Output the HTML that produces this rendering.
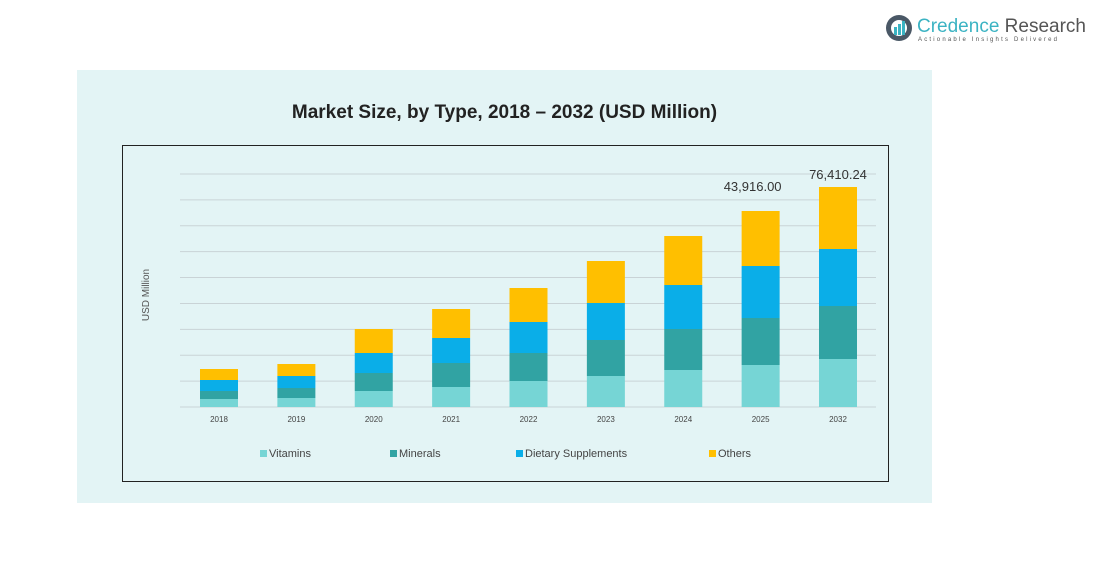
<!DOCTYPE html>
<html><head><meta charset="utf-8"><style>
body{margin:0;width:1103px;height:572px;background:#fff;font-family:"Liberation Sans",sans-serif;overflow:hidden;position:relative}
#panel{position:absolute;left:77px;top:70px;width:855px;height:433px;background:#e3f4f5}
#title{position:absolute;left:77px;top:102px;width:855px;text-align:center;font-weight:bold;font-size:19px;color:#222}
#box{position:absolute;left:122px;top:145px;width:765px;height:335px;border:1px solid #222}
#logo{position:absolute;left:885px;top:12px}
</style></head><body>
<div id="panel"></div>
<div id="title">Market Size, by Type, 2018 – 2032 (USD Million)</div>
<div id="box"></div>
<div id="logo">
<svg width="200" height="34"><circle cx="14" cy="16" r="13" fill="#4a5866"/><circle cx="14" cy="16" r="8" fill="#fff"/><rect x="9" y="15" width="3" height="8" fill="#3bb3c3"/><rect x="13" y="12" width="3" height="11" fill="#3bb3c3"/><rect x="17" y="9" width="3" height="14" fill="#3bb3c3"/>
<text x="32" y="20" font-size="19" fill="#3bb3c3" font-family="Liberation Sans">Credence <tspan fill="#555">Research</tspan></text>
<text x="33" y="29" font-size="6" fill="#555" letter-spacing="2.2" font-family="Liberation Sans">Actionable Insights Delivered</text></svg></div>
<svg id="chart" width="1103" height="572" style="position:absolute;left:0;top:0"></svg>
<script>
const categories=["2018","2019","2020","2021","2022","2023","2024","2025","2032"];
const vitamins=[8,9,16,20,26,31,37,42,48];
const minerals=[8,10,18,24,28,36,41,47,53];
const dietary=[11,12,20,25,31,37,44,52,57];
const others=[11,12,24,29,34,42,49,55,62];
const totalLabels=["","","","","","","","43,916.00","76,410.24"];
const seriesNames=["Vitamins","Minerals","Dietary Supplements","Others"];
const colors=["#76d5d5","#31a3a3","#0aaee8","#ffbf00"];
const yMax=233;
const svg=document.getElementById('chart');const NS="http://www.w3.org/2000/svg";
const x0=180,x1=876,yB=407,yT=174;
function y(v){return yB-(v/yMax)*(yB-yT);}
function xc(i){return 219+i*(838-219)/(categories.length-1);}
function mk(t,a){const e=document.createElementNS(NS,t);for(const k in a)e.setAttribute(k,a[k]);svg.appendChild(e);return e;}
for(let g=0;g<=9;g++){const gy=yB-g*(yB-yT)/9;const l=mk('line',{x1:x0,x2:x1,y1:gy,y2:gy,stroke:'#c9d3d6','stroke-width':1});

}
const series=[vitamins,minerals,dietary,others];
categories.forEach((c,i)=>{let acc=0;
series.forEach((s,k)=>{const r=mk('rect',{x:xc(i)-19,width:38,y:y(acc+s[i]),height:y(acc)-y(acc+s[i]),fill:colors[k]});

acc+=s[i];});
const t=mk('text',{x:xc(i),y:422,'font-size':8,'text-anchor':'middle',fill:'#444'});t.textContent=c;


if(totalLabels[i]){const tl=mk('text',{x:xc(i)-(i==categories.length-1?0:8),y:y(acc)-(i==categories.length-1?8:20),'font-size':13,'text-anchor':'middle',fill:'#333'});tl.textContent=totalLabels[i];

}
});
const yl=mk('text',{x:149,y:295,'font-size':10,'text-anchor':'middle',fill:'#555',transform:'rotate(-90 149 295)'});yl.textContent='USD Million';


const lx=[260,390,516,709];
seriesNames.forEach((n,k)=>{const r=mk('rect',{x:lx[k],y:450,width:7,height:7,fill:colors[k]});


const t=mk('text',{x:lx[k]+9,y:457,'font-size':11,fill:'#444'});t.textContent=n;

});
</script>
</body></html>
